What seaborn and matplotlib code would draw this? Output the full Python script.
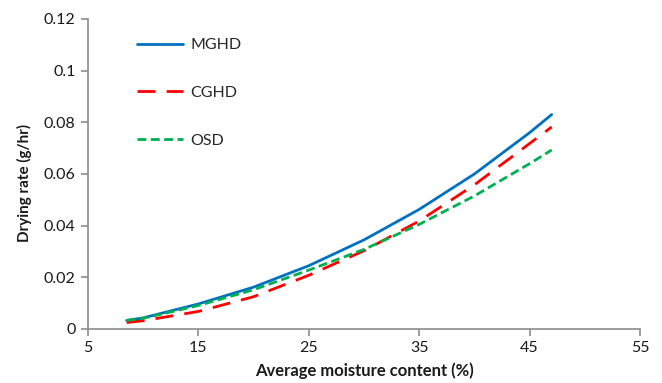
import matplotlib
matplotlib.use("Agg")
import matplotlib.pyplot as plt
import seaborn as sns
import pandas as pd

# Average moisture content (%) at which drying rate was evaluated
moisture = [8.5, 10, 15, 20, 25, 30, 35, 40, 45, 47]

# Drying rate (g/hr) for each dryer
mghd = [0.0033, 0.0043, 0.0097, 0.0162, 0.0245, 0.0345, 0.0463, 0.0600, 0.0760, 0.0830]
cghd = [0.0025, 0.0032, 0.0068, 0.0125, 0.0208, 0.0303, 0.0418, 0.0558, 0.0718, 0.0782]
osd = [0.0033, 0.0041, 0.0091, 0.0152, 0.0228, 0.0308, 0.0405, 0.0515, 0.0640, 0.0693]

series_names = ["MGHD", "CGHD", "OSD"]
x_ticks = [5, 15, 25, 35, 45, 55]
y_ticks = [0, 0.02, 0.04, 0.06, 0.08, 0.1, 0.12]
y_tick_labels = ["0", "0.02", "0.04", "0.06", "0.08", "0.1", "0.12"]

df = pd.DataFrame({
    "moisture": moisture * 3,
    "rate": mghd + cghd + osd,
    "dryer": [n for n in series_names for _ in moisture],
})

sns.set_theme(style="white")
plt.rcParams["font.family"] = ["Lato", "DejaVu Sans"]

styles = {
    "MGHD": dict(color="#0070C0", linestyle="-"),
    "CGHD": dict(color="#FF0000", dashes=(6.5, 4)),
    "OSD": dict(color="#00B050", dashes=(3.2, 1.6)),
}

fig = plt.figure(figsize=(6.62, 3.83), dpi=100)
ax = fig.add_axes([88 / 662, 1 - 329 / 383, (640 - 88) / 662, (329 - 19) / 383])

for name in series_names:
    sub = df[df["dryer"] == name]
    sns.lineplot(data=sub, x="moisture", y="rate", ax=ax, label=name,
                 linewidth=2.0, **styles[name])

ax.set_xlim(5, 55)
ax.set_ylim(0, 0.12)
ax.set_xticks(x_ticks)
ax.set_xticklabels([str(t) for t in x_ticks])
ax.set_yticks(y_ticks)
ax.set_yticklabels(y_tick_labels)

axis_grey = "#8c8c8c"
for side in ["top", "right"]:
    ax.spines[side].set_visible(False)
for side in ["left", "bottom"]:
    ax.spines[side].set_color(axis_grey)
    ax.spines[side].set_linewidth(1.2)
ax.tick_params(axis="both", which="major", direction="out", length=5,
               width=1.2, color=axis_grey, labelsize=11.5, labelcolor="#1a1a1a",
               left=True, bottom=True, pad=4)

ax.set_xlabel("Average moisture content (%)", fontsize=12, fontweight="bold",
              color="#1a1a1a", labelpad=5)
ax.set_ylabel("Drying rate (g/hr)", fontsize=11, fontweight="bold",
              color="#1a1a1a")
ax.yaxis.set_label_coords(-0.102, 0.47)

ax.legend(loc="upper left", bbox_to_anchor=(137 / 662, 1 - 38 / 383),
          bbox_transform=fig.transFigure, frameon=False, fontsize=11.5,
          handlelength=2.9, handletextpad=0.45, labelspacing=2.1,
          borderpad=0, borderaxespad=0)

fig.savefig("out.png", dpi=100)
